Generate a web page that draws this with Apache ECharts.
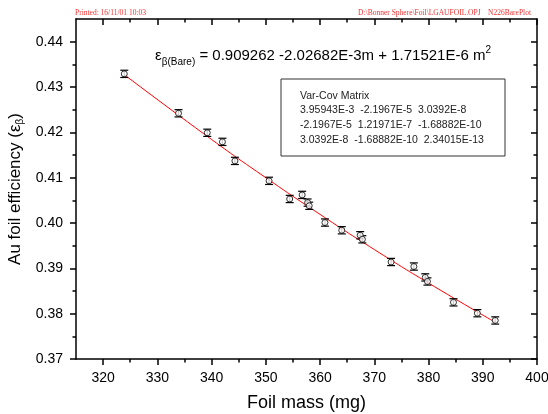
<!DOCTYPE html>
<html>
<head>
<meta charset="utf-8">
<script src="https://cdn.jsdelivr.net/npm/echarts@6/dist/echarts.min.js"></script>
<style>
html, body { margin: 0; padding: 0; background: #fff; }
#main { width: 548px; height: 414px; }
</style>
</head>
<body>
<div id="main"></div>
<script>
// measured points (foil mass mg, efficiency, error)
const mass = [323.9, 333.9, 339.2, 342.0, 344.3, 350.6, 354.4, 356.7, 357.7, 358.0, 360.9,
    364.0, 367.4, 367.8, 373.1, 377.3, 379.4, 379.8, 384.6, 389.0, 392.3];
const eff = [0.4329, 0.4242, 0.4199, 0.4179, 0.4137, 0.4093, 0.4053, 0.4062, 0.4045, 0.4038, 0.4001,
    0.3984, 0.3973, 0.3964, 0.3914, 0.3904, 0.3880, 0.3871, 0.3825, 0.3801, 0.3785];
const effErr = [0.0008, 0.0008, 0.0008, 0.0008, 0.0008, 0.0008, 0.0008, 0.0008, 0.0008, 0.0008, 0.0008,
    0.0008, 0.0008, 0.0008, 0.0008, 0.0008, 0.0008, 0.0008, 0.0008, 0.0008, 0.0008];
// red fit curve
const fitMass = [324, 340, 350, 360, 370, 380, 392.5];
const fitEff = [0.43263, 0.41842, 0.40999, 0.40190, 0.39415, 0.38675, 0.37797];
// ticks
const xMajor = [320, 330, 340, 350, 360, 370, 380, 390, 400];
const xMinor = [325, 335, 345, 355, 365, 375, 385, 395];
const yMajor = [0.37, 0.38, 0.39, 0.40, 0.41, 0.42, 0.43, 0.44];
const yMinor = [0.375, 0.385, 0.395, 0.405, 0.415, 0.425, 0.435];
const varCov = [
    "Var-Cov Matrix",
    "3.95943E-3  -2.1967E-5  3.0392E-8",
    "-2.1967E-5  1.21971E-7  -1.68882E-10",
    "3.0392E-8  -1.68882E-10  2.34015E-13"
];

const font = "Liberation Sans, Arial, sans-serif";
const lineCol = "#000";

function xAx(pos, ticks, len, inside, showLine, labels) {
    return {
        type: "value", min: 315, max: 400, position: pos,
        axisLine: { show: showLine, onZero: false, lineStyle: { color: lineCol, width: 1.5 } },
        axisTick: { show: true, inside: inside, length: len, customValues: ticks, lineStyle: { color: lineCol, width: 1.5 } },
        axisLabel: labels ? { show: true, customValues: ticks, margin: 12, color: "#000", fontSize: 14, fontFamily: font } : { show: false },
        splitLine: { show: false }
    };
}

function yAx(pos, ticks, len, inside, showLine, labels) {
    return {
        type: "value", min: 0.37, max: 0.445, position: pos,
        axisLine: { show: showLine, onZero: false, lineStyle: { color: lineCol, width: 1.5 } },
        axisTick: { show: true, inside: inside, length: len, customValues: ticks, lineStyle: { color: lineCol, width: 1.5 } },
        axisLabel: labels ? {
            show: true, customValues: ticks, margin: 13, color: "#000", fontSize: 14, fontFamily: font,
            formatter: function (v) { return v.toFixed(2); }
        } : { show: false },
        splitLine: { show: false }
    };
}

let xAxes = [
    xAx("bottom", xMajor, 6, false, true, true),
    xAx("bottom", xMinor, 3.5, false, false, false),
    xAx("top", xMajor, 6, true, true, false),
    xAx("top", xMinor, 3.5, true, false, false)
];
xAxes[0].name = "Foil mass (mg)";
xAxes[0].nameLocation = "middle";
xAxes[0].nameGap = 35;
xAxes[0].nameTextStyle = { fontSize: 18, fontFamily: font, color: "#000" };

let yAxes = [
    yAx("left", yMajor, 6, false, true, true),
    yAx("left", yMinor, 3.5, false, false, false),
    yAx("right", yMajor, 6, true, true, false),
    yAx("right", yMinor, 3.5, true, false, false)
];
yAxes[0].name = "{a|Au foil efficiency (ε}{s|β}{a|)}";
yAxes[0].nameLocation = "middle";
yAxes[0].nameGap = 41;
yAxes[0].nameTextStyle = {
    rich: {
        a: { fontSize: 17, fontFamily: font, color: "#000", lineHeight: 20 },
        s: { fontSize: 10, fontFamily: font, color: "#000", lineHeight: 10, verticalAlign: "bottom" }
    }
};

let errData = [];
let ptData = [];
for (let i = 0; i < mass.length; i++) {
    errData.push([mass[i], eff[i], effErr[i]]);
    ptData.push([mass[i], eff[i]]);
}
let fitData = [];
for (let i = 0; i < fitMass.length; i++) {
    fitData.push([fitMass[i], fitEff[i]]);
}

let graphics = [
    {
        type: "text", left: 75, top: 9,
        style: { text: "Printed: 16/11/01 10:03", fill: "#ee3333", font: "7.5px Liberation Serif, serif" }
    },
    {
        type: "text", right: 17, top: 9,
        style: { text: "D:\\Bonner Sphere\\Foil\\LGAUFOIL.OPJ    N226BarePlot", fill: "#ee3333", font: "7.5px Liberation Serif, serif" }
    },
    {
        type: "text", x: 155, y: 56,
        style: {
            text: "{e|ε}{s|β(Bare)}{t| = 0.909262 -2.02682E-3m + 1.71521E-6 m}{p|2}",
            verticalAlign: "middle",
            rich: {
                e: { fontSize: 15, fontFamily: font, fill: "#000", lineHeight: 22 },
                t: { fontSize: 15, fontFamily: font, fill: "#000", lineHeight: 22 },
                s: { fontSize: 10, fontFamily: font, fill: "#000", lineHeight: 10, verticalAlign: "bottom" },
                p: { fontSize: 10, fontFamily: font, fill: "#000", lineHeight: 10, verticalAlign: "top" }
            }
        }
    },
    {
        type: "rect", shape: { x: 281, y: 79, width: 224, height: 77 },
        style: { fill: "#fff", stroke: "#333", lineWidth: 1 }, z: 10
    }
];
for (let i = 0; i < varCov.length; i++) {
    graphics.push({
        type: "text", x: 300, y: 96 + i * 14.6, z: 11,
        style: { text: varCov[i], fill: "#222", font: "10.5px " + font, verticalAlign: "middle" }
    });
}

let chart = echarts.init(document.getElementById("main"));
chart.setOption({
    animation: false,
    backgroundColor: "#fff",
    grid: { left: 76, right: 11, top: 19, bottom: 55, containLabel: false, outerBoundsMode: "none" },
    xAxis: xAxes,
    yAxis: yAxes,
    graphic: graphics,
    series: [
        {
            type: "line", data: fitData, smooth: true, showSymbol: false, z: 2,
            lineStyle: { color: "#ff0000", width: 1 }
        },
        {
            type: "custom", data: errData, z: 3,
            renderItem: function (params, api) {
                let x = api.value(0), y = api.value(1), er = api.value(2);
                let hi = api.coord([x, y + er]);
                let lo = api.coord([x, y - er]);
                let st = { stroke: "#000", lineWidth: 1.2 };
                return {
                    type: "group",
                    children: [
                        { type: "line", shape: { x1: hi[0], y1: hi[1], x2: lo[0], y2: lo[1] }, style: st },
                        { type: "line", shape: { x1: hi[0] - 4, y1: hi[1], x2: hi[0] + 4, y2: hi[1] }, style: st },
                        { type: "line", shape: { x1: lo[0] - 4, y1: lo[1], x2: lo[0] + 4, y2: lo[1] }, style: st }
                    ]
                };
            }
        },
        {
            type: "scatter", data: ptData, symbol: "circle", symbolSize: 6, z: 4,
            itemStyle: { color: "#fff", borderColor: "#000", borderWidth: 1 }
        }
    ]
});
</script>
</body>
</html>
